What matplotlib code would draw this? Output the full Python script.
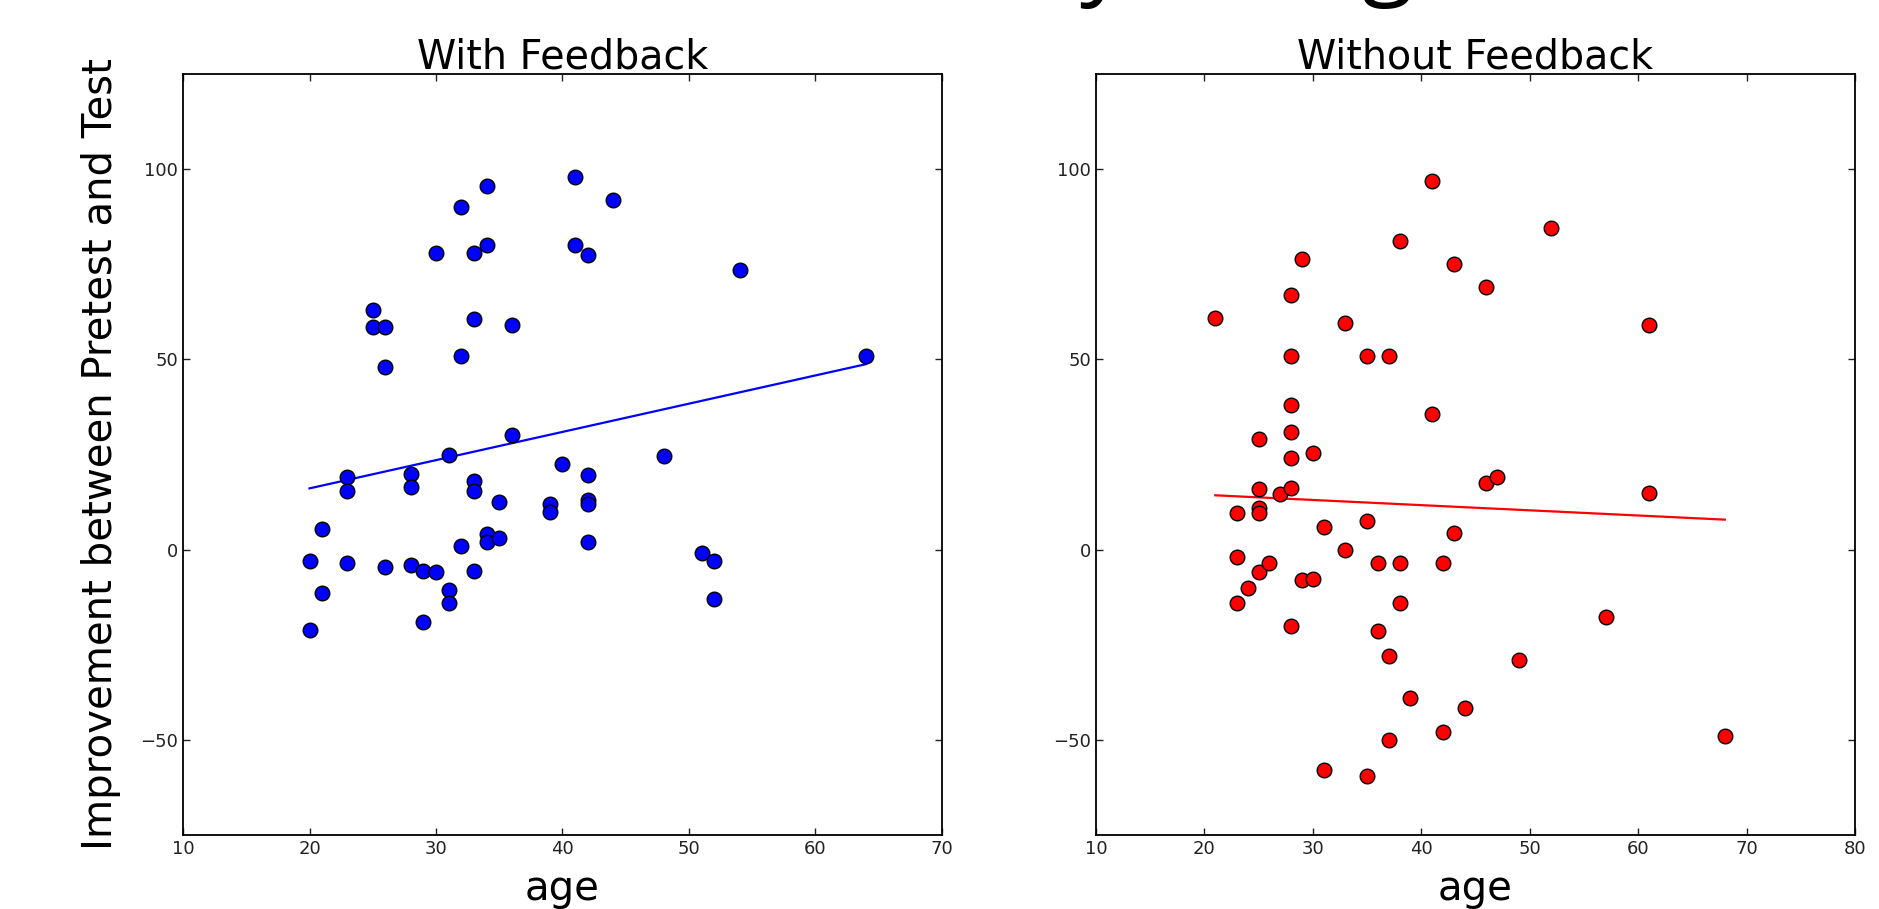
import numpy as np
import matplotlib.pyplot as plt

# with feedback (blue)
age_fb = [20, 20, 21, 21, 23, 23, 23, 25, 25, 26, 26, 26, 28, 28, 28, 29, 29, 30, 30,
          31, 31, 31, 32, 32, 32, 33, 33, 33, 33, 33, 34, 34, 34, 34, 35, 35, 36, 36,
          39, 39, 40, 41, 41, 42, 42, 42, 42, 42, 44, 48, 51, 52, 52, 54, 64]
imp_fb = [-3, -21, 5.5, -11.5, 19, 15.5, -3.5, 63, 58.5, 58.5, 48, -4.5, 20, 16.5, -4,
          -5.5, -19, 78, -6, 25, -10.5, -14, 90, 51, 1, 78, 60.5, 18, 15.5, -5.5,
          95.5, 80, 4, 2, 3, 12.5, 59, 30, 12, 10, 22.5, 98, 80, 77.5, 19.5, 13, 12, 2,
          92, 24.5, -1, -3, -13, 73.5, 51]

# without feedback (red)
age_nf = [21, 23, 23, 23, 24, 25, 25, 25, 25, 25, 26, 27, 28, 28, 28, 28, 28, 28, 28,
          29, 29, 30, 30, 31, 31, 33, 33, 35, 35, 35, 36, 36, 37, 37, 37, 38, 38, 38,
          39, 41, 41, 42, 42, 43, 43, 44, 46, 46, 47, 49, 52, 57, 61, 61, 68]
imp_nf = [61, 9.5, -2, -14, -10, 29, 16, 11, 9.7, -6, -3.4, 14.6, 67, 51, 38, 31, 24,
          16.3, -20, 76.5, -8, 25.5, -7.7, 6, -58, 59.5, 0, 51, 7.5, -59.4, -3.4, -21.5,
          51, -28, -50, 81, -3.4, -14, -39, 97, 35.6, -3.4, -48, 75, 4.5, -41.5, 69,
          17.6, 19, -29, 84.5, -17.6, 59, 15, -49]

fig = plt.figure(figsize=(18.79, 9.09), dpi=100)

# cut-off slide title above the figure (only descenders show)
fig.text(1080 / 1879, 1.014, "y", fontsize=68, family="Open Sans", va="baseline")
fig.text(1362 / 1879, 1.014, "g", fontsize=68, family="Open Sans", va="baseline")

ax1 = fig.add_axes([0.0974, 0.0814, 0.4039, 0.8372])
ax2 = fig.add_axes([0.5833, 0.0814, 0.4039, 0.8372])

panels = [
    (ax1, age_fb, imp_fb, "b", "With Feedback", (10, 70)),
    (ax2, age_nf, imp_nf, "r", "Without Feedback", (10, 80)),
]

for ax, ages, imps, col, title, xl in panels:
    x = np.array(ages, dtype=float)
    y = np.array(imps, dtype=float)
    m, b = np.polyfit(x, y, 1)
    ax.plot(x, y, "o", color=col, markersize=10.5, markeredgecolor="black",
            markeredgewidth=1.0, zorder=3)
    ax.plot(x, m * x + b, "-", color=col, lw=1.6, zorder=2)
    ax.set_xlim(*xl)
    ax.set_ylim(-75, 125)
    ax.set_yticks([-50, 0, 50, 100])
    ax.set_xticks(np.arange(xl[0], xl[1] + 1, 10))
    ax.tick_params(direction="in", top=True, right=True, length=5, width=1,
                   labelsize=13, colors="#222222")
    for s in ax.spines.values():
        s.set_linewidth(1.3)
    ax.set_title(title, fontsize=28.5, pad=4)
    ax.set_xlabel("age", fontsize=29, labelpad=8)

ax1.set_ylabel("Improvement between Pretest and Test", fontsize=29, labelpad=14)

plt.savefig("out.png", dpi=100)
